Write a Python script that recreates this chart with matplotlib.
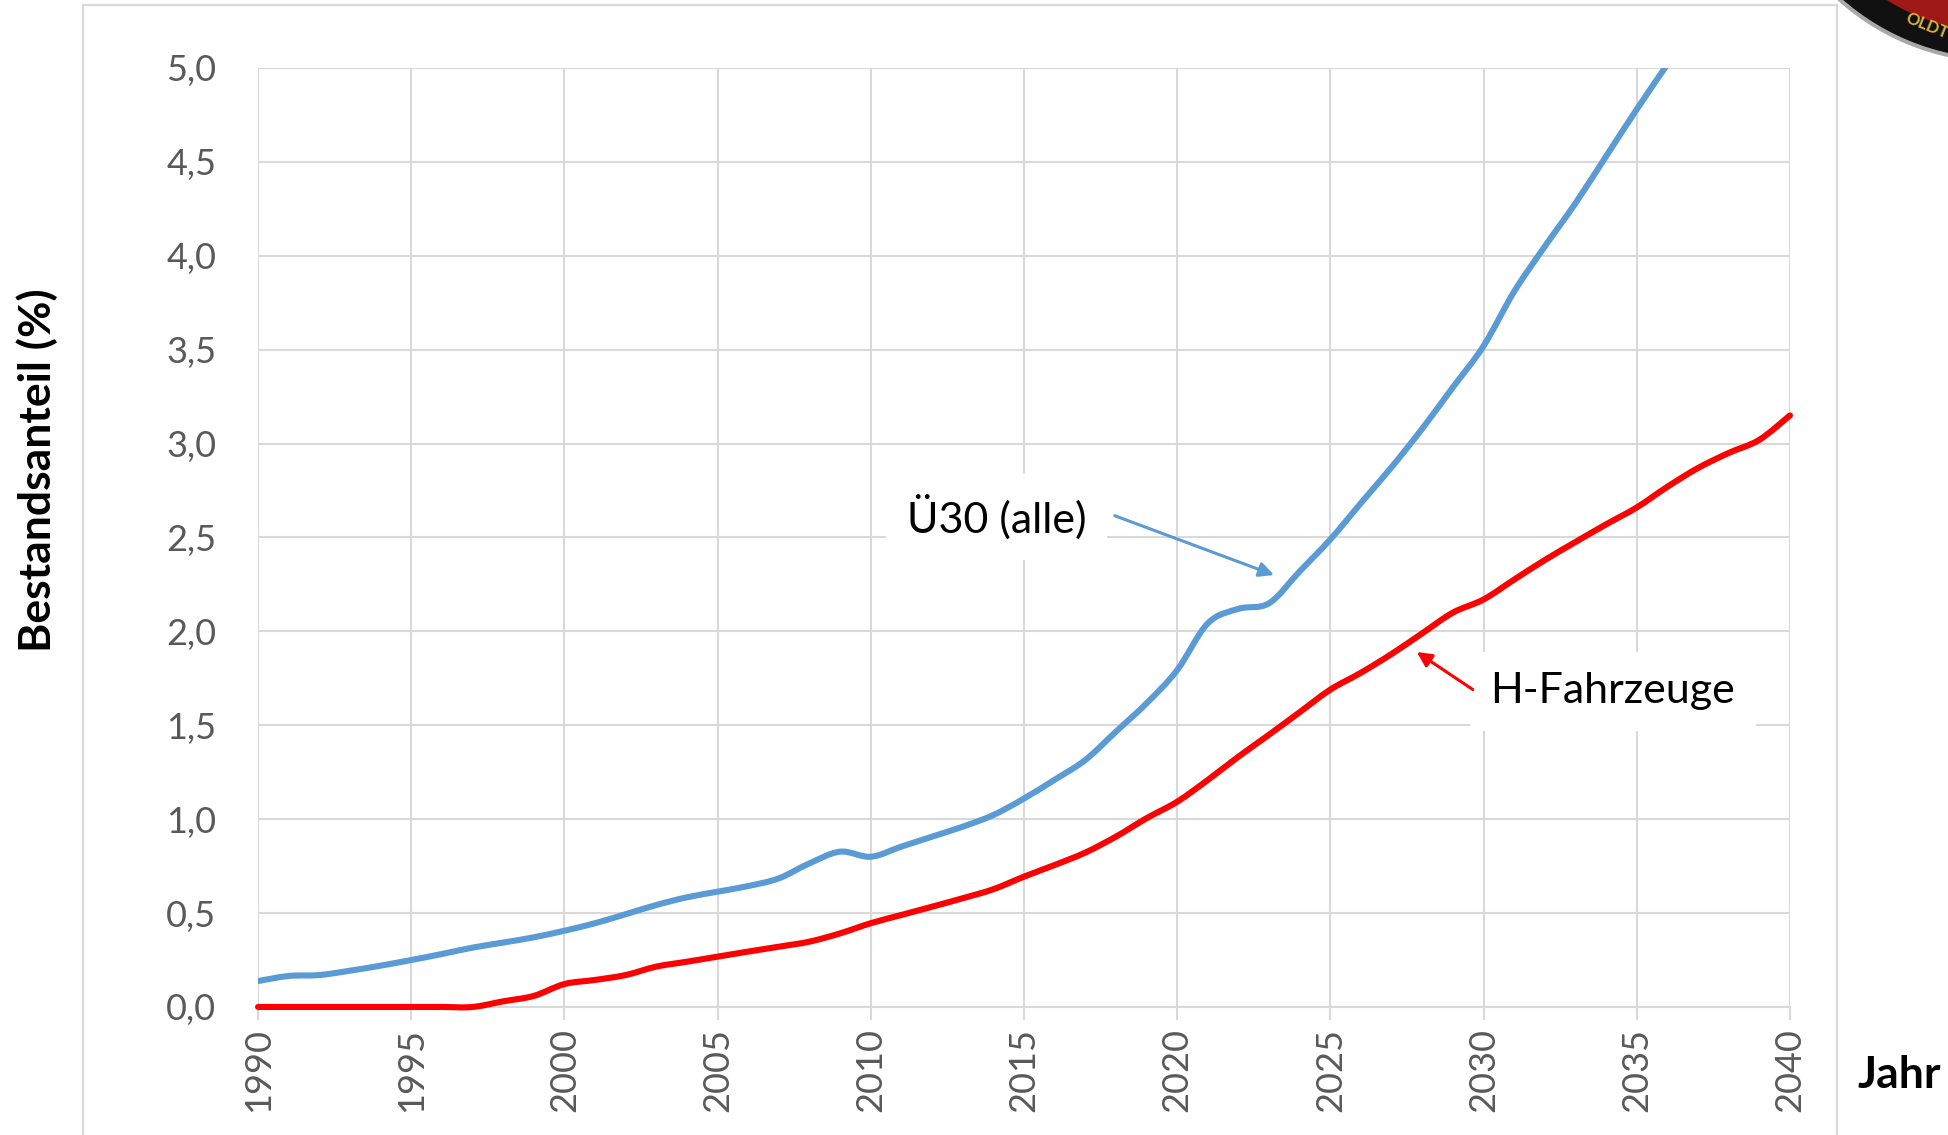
import matplotlib
matplotlib.use('Agg')
import matplotlib.pyplot as plt
from matplotlib.patches import Rectangle, Circle, PathPatch
from matplotlib.path import Path
from matplotlib.ticker import FuncFormatter

plt.rcParams['font.family'] = ['Lato', 'DejaVu Sans']

years = list(range(1990, 2041))

# Ü30 (alle) - Bestandsanteil in % (läuft ab 2036 über den Rand)
ue30 = [0.138, 0.165, 0.17, 0.193, 0.22, 0.25, 0.282, 0.316, 0.343, 0.371,
        0.406, 0.446, 0.494, 0.543, 0.584, 0.614, 0.644, 0.685, 0.765, 0.827,
        0.80, 0.854, 0.907, 0.96, 1.022, 1.11, 1.21, 1.315, 1.466, 1.617,
        1.794, 2.043, 2.12, 2.15, 2.32, 2.49, 2.684, 2.875, 3.08, 3.30,
        3.52, 3.81, 4.05, 4.28, 4.53, 4.78, 5.02]
ue30_years = years[:len(ue30)]

# H-Fahrzeuge - Bestandsanteil in %
hfz = [0.0, 0.0, 0.0, 0.0, 0.0, 0.0, 0.0, 0.0, 0.03, 0.059,
       0.122, 0.144, 0.17, 0.215, 0.241, 0.268, 0.295, 0.321, 0.348, 0.392,
       0.446, 0.49, 0.534, 0.579, 0.627, 0.694, 0.756, 0.822, 0.907, 1.005,
       1.093, 1.209, 1.333, 1.45, 1.57, 1.69, 1.78, 1.88, 1.99, 2.10,
       2.17, 2.276, 2.38, 2.476, 2.57, 2.66, 2.77, 2.87, 2.95, 3.02,
       3.15]

yticks = [0, 0.5, 1.0, 1.5, 2.0, 2.5, 3.0, 3.5, 4.0, 4.5, 5.0]
xticks = list(range(1990, 2041, 5))

grid_c = '#D9D9D9'
text_c = '#595959'


def smooth_path(xs, ys):
    # geglaettete Linie wie in Excel: Bezier-Kurven durch die Datenpunkte
    pts = list(zip(xs, ys))
    verts = [pts[0]]
    codes = [Path.MOVETO]
    n = len(pts)
    for i in range(n - 1):
        p0 = pts[max(i - 1, 0)]
        p1 = pts[i]
        p2 = pts[i + 1]
        p3 = pts[min(i + 2, n - 1)]
        c1 = (p1[0] + (p2[0] - p0[0]) / 6, p1[1] + (p2[1] - p0[1]) / 6)
        c2 = (p2[0] - (p3[0] - p1[0]) / 6, p2[1] - (p3[1] - p1[1]) / 6)
        verts += [c1, c2, p2]
        codes += [Path.CURVE4] * 3
    return Path(verts, codes)


fig = plt.figure(figsize=(19.49, 11.35), dpi=100)
ax = fig.add_axes([0.1324, 0.1128, 0.786, 0.8273])

# Rahmen um den Diagrammbereich
fig.patches.append(Rectangle((83 / 1949, -0.05), (1837 - 83) / 1949, 1.05 - 5 / 1135,
                             transform=fig.transFigure, fill=False,
                             edgecolor=grid_c, lw=1.6, zorder=0))

ax.add_patch(PathPatch(smooth_path(ue30_years, ue30), fill=False,
                       edgecolor='#5B9BD5', lw=4.4, capstyle='round',
                       joinstyle='round', zorder=3))
ax.add_patch(PathPatch(smooth_path(years, hfz), fill=False,
                       edgecolor='#FF0000', lw=4.4, capstyle='round',
                       joinstyle='round', zorder=3, clip_on=False))

ax.set_xlim(1990, 2040)
ax.set_ylim(0, 5.0)
ax.set_xticks(xticks)
ax.set_yticks(yticks)
ax.yaxis.set_major_formatter(FuncFormatter(lambda v, p: f'{v:.1f}'.replace('.', ',')))
ax.grid(True, color=grid_c, lw=1.5, zorder=0)
ax.set_axisbelow(True)
for s in ['top', 'right', 'left']:
    ax.spines[s].set_visible(False)
ax.spines['bottom'].set_color(grid_c)
ax.spines['bottom'].set_linewidth(1.5)
ax.tick_params(axis='x', length=9, width=1.5, color=grid_c, labelcolor=text_c,
               labelsize=26, labelrotation=90, pad=6)
ax.tick_params(axis='y', length=0, labelcolor=text_c, labelsize=26, pad=30)

fig.text(37 / 1949, 1 - 470 / 1135, 'Bestandsanteil (%)', rotation=90,
         fontsize=32, fontweight='bold', ha='center', va='center')
fig.text(1899 / 1949, 1 - 1075 / 1135, 'Jahr', fontsize=32, fontweight='bold',
         ha='center', va='center')

# Beschriftungen mit Pfeilen
ax.annotate('', xy=(2023.16, 2.30), xytext=(2017.96, 2.616),
            arrowprops=dict(arrowstyle='-|>', color='#5B9BD5', lw=2.2,
                            mutation_scale=22, shrinkA=0, shrinkB=0), zorder=5)
ax.text(2014.1, 2.61, 'Ü30 (alle)', fontsize=31, ha='center', va='center',
        bbox=dict(facecolor='white', edgecolor='none', pad=15), zorder=4)

ax.annotate('', xy=(2027.82, 1.89), xytext=(2029.65, 1.69),
            arrowprops=dict(arrowstyle='-|>', color='#FF0000', lw=2.2,
                            mutation_scale=22, shrinkA=0, shrinkB=0), zorder=5)
ax.text(2034.22, 1.68, 'H-Fahrzeuge', fontsize=31, ha='center', va='center',
        bbox=dict(facecolor='white', edgecolor='none', pad=15), zorder=4)

# angeschnittenes Logo oben rechts (Pixelkoordinaten)
logo = fig.add_axes([1700 / 1949, 1 - 200 / 1135, 249 / 1949, 200 / 1135])
logo.set_xlim(1700, 1949)
logo.set_ylim(200, 0)
logo.axis('off')
logo.add_patch(Circle((2000, -180), 242, color='#A8A8A8'))
logo.add_patch(Circle((2000, -180), 238, color='#111111'))
logo.add_patch(Circle((2000, -180), 212, color='#A01818'))
logo.text(1903, 26, 'OLDT', color='#D8B43A', fontsize=12, fontweight='bold',
          rotation=-22, ha='left', va='center')

fig.savefig('out.png', dpi=100)
